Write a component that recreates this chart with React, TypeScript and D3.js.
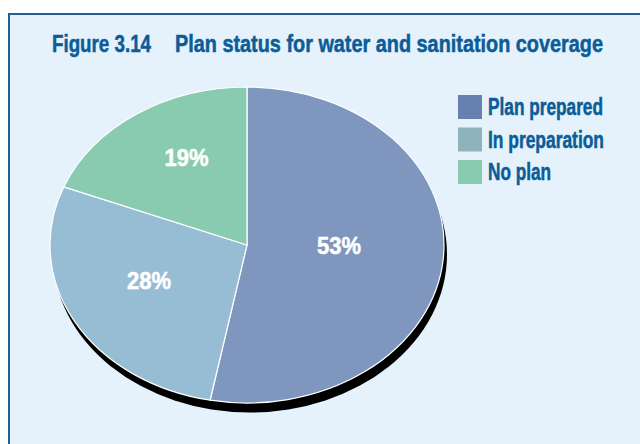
import React from "react";
import * as d3 from "d3";

const categories = ["Plan prepared", "In preparation", "No plan"];
const values = [53, 28, 19];
const sliceColors = ["#7f97bf", "#97bdd5", "#89cbb0"];
const legendColors = ["#6680b0", "#8fb3bb", "#88cbb0"];
const labelRadii = [0.467, 0.545, 0.632];
const labelAngleShift = [-5.4, 4.7, 5.1];
const legendWidths = [115, 116, 63];

const W = 640;
const H = 444;
const FONT = "'Liberation Sans', Arial, sans-serif";
const BLUE = "#0b5c97";

export default function App() {
  const cx = 247;
  const cy = 245;
  const rx = 197;
  const ry = 158;
  const sx = rx / ry;

  const pie = d3.pie<number>().sort(null).value((d) => d)(values);
  const arc = d3.arc<d3.PieArcDatum<number>>().innerRadius(0).outerRadius(ry);

  return (
    <svg width={W} height={H} style={{ position: "absolute", left: 0, top: 0, display: "block" }}>
      <rect x={0} y={0} width={W} height={H} fill="#ffffff" />
      <rect x={9} y={14} width={W} height={H} fill="#e5f1fb" stroke="#1f6096" strokeWidth={2} />
      <text x={52} y={51.5} fill={BLUE} stroke={BLUE} strokeWidth={0.5} fontFamily={FONT} fontWeight="bold" fontSize={24} textLength={99} lengthAdjust="spacingAndGlyphs">
        Figure 3.14
      </text>
      <text x={175} y={51.5} fill={BLUE} stroke={BLUE} strokeWidth={0.5} fontFamily={FONT} fontWeight="bold" fontSize={24} textLength={428} lengthAdjust="spacingAndGlyphs">
        Plan status for water and sanitation coverage
      </text>
      {/* shadow */}
      <ellipse cx={cx + 3} cy={cy + 9.5} rx={rx} ry={ry} fill="#000000" />
      <g transform={`translate(${cx},${cy}) scale(${sx},1)`}>
        {pie.map((d, i) => (
          <path
            key={i}
            d={arc(d) || ""}
            fill={sliceColors[i]}
            stroke="#ffffff"
            strokeWidth={1.2}
            vectorEffect="non-scaling-stroke"
          />
        ))}
      </g>
      {pie.map((d, i) => {
        const mid = (d.startAngle + d.endAngle) / 2 + (labelAngleShift[i] * Math.PI) / 180;
        const x = cx + Math.sin(mid) * rx * labelRadii[i];
        const y = cy - Math.cos(mid) * ry * labelRadii[i];
        return (
          <text
            key={i}
            x={x - 22}
            y={y + 8.5}
            fill="#ffffff"
            stroke="#ffffff"
            strokeWidth={0.5}
            fontFamily={FONT}
            fontWeight="bold"
            fontSize={23}
            textLength={44}
            lengthAdjust="spacingAndGlyphs"
          >
            {`${values[i]}%`}
          </text>
        );
      })}
      {categories.map((c, i) => (
        <g key={c} transform={`translate(458,${95 + i * 32.5})`}>
          <rect x={0} y={0} width={24} height={24} fill={legendColors[i]} />
          <text x={30} y={20} fill={BLUE} stroke={BLUE} strokeWidth={0.5} fontFamily={FONT} fontWeight="bold" fontSize={23} textLength={legendWidths[i]} lengthAdjust="spacingAndGlyphs">
            {c}
          </text>
        </g>
      ))}
    </svg>
  );
}
